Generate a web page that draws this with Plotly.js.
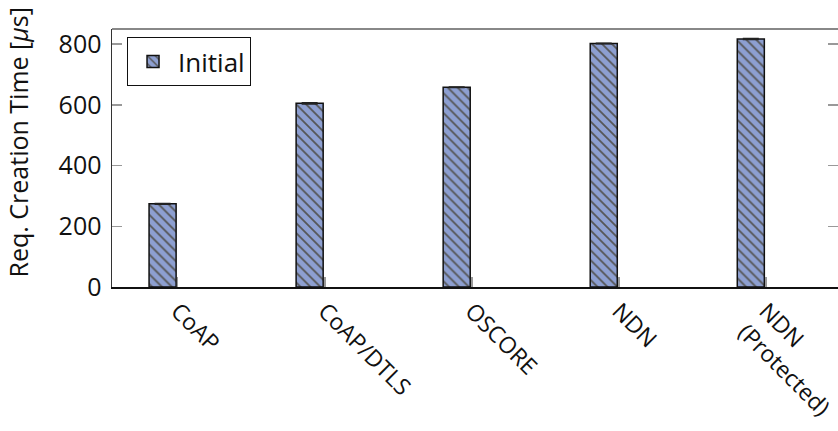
<!DOCTYPE html>
<html>
<head>
<meta charset="utf-8">
<script src="https://cdn.plot.ly/plotly-3.0.1.min.js"></script>
<style>html,body{margin:0;padding:0;background:#fff;}#chart{width:838px;height:431px;}</style>
</head>
<body>
<div id="chart"></div>
<script>
const categories = ["CoAP", "CoAP/DTLS", "OSCORE", "NDN", "NDN<br>(Protected)"];
const initialValues = [274, 605, 658, 802, 817];
const initialErrors = [1, 2, 1, 1, 2];
const seriesName = "Initial";
const yTickVals = [0, 200, 400, 600, 800];
const yTitle = "Req. Creation Time [<i>μ</i>s]";

const trace = {
  type: "bar",
  name: seriesName,
  x: categories,
  y: initialValues,
  width: 0.184,
  offset: -0.195,
  marker: {
    color: "#8d9fd1",
    line: {color: "#111", width: 1.5},
    pattern: {shape: "\\", fgcolor: "#555", bgcolor: "#8d9fd1", size: 7, solidity: 0.25}
  },
  error_y: {type: "data", array: initialErrors, visible: true, color: "#222", thickness: 1.5, width: 8},
  showlegend: true
};

const layout = {
  width: 838, height: 431,
  margin: {l: 112, r: 0, t: 29, b: 144},
  paper_bgcolor: "#fff", plot_bgcolor: "#fff",
  font: {family: "Open Sans, Lato, sans-serif", color: "#111"},
  bargap: 0,
  xaxis: {
    type: "category",
    range: [-0.447, 4.49],
    tickangle: 45,
    ticks: "inside", ticklen: 10, tickcolor: "#999", tickwidth: 1.5,
    showline: true, linecolor: "#111", linewidth: 1.5,
    showgrid: false, zeroline: false,
    tickfont: {size: 23, family: "Open Sans, sans-serif", color: "#111"},
    fixedrange: true
  },
  yaxis: {
    range: [0, 850],
    tickvals: yTickVals,
    ticks: "inside", ticklen: 10, tickcolor: "#999", tickwidth: 1.5,
    mirror: "ticks",
    showline: true, linecolor: "#333", linewidth: 1.5,
    showgrid: false, zeroline: false,
    ticklabelstandoff: 4,
    tickfont: {size: 25, family: "Open Sans, sans-serif", color: "#111"},
    fixedrange: true
  },
  annotations: [
    {text: yTitle, xref: "paper", yref: "paper", x: -0.1295, y: 0.56, xanchor: "center", yanchor: "middle",
     textangle: -90, showarrow: false, font: {size: 25, family: "Open Sans, sans-serif", color: "#111"}}
  ],
  shapes: [
    {type: "line", xref: "paper", yref: "paper", x0: 0, x1: 1, y0: 1, y1: 1, line: {color: "#888", width: 2}}
  ],
  legend: {
    x: 0.0207, y: 0.969, xanchor: "left", yanchor: "top",
    bordercolor: "#111", borderwidth: 1, bgcolor: "#fff",
    font: {size: 26, family: "Open Sans, sans-serif", color: "#111"},
    itemwidth: 40
  }
};

Plotly.newPlot("chart", [trace], layout, {displayModeBar: false, staticPlot: true});
</script>
</body>
</html>
